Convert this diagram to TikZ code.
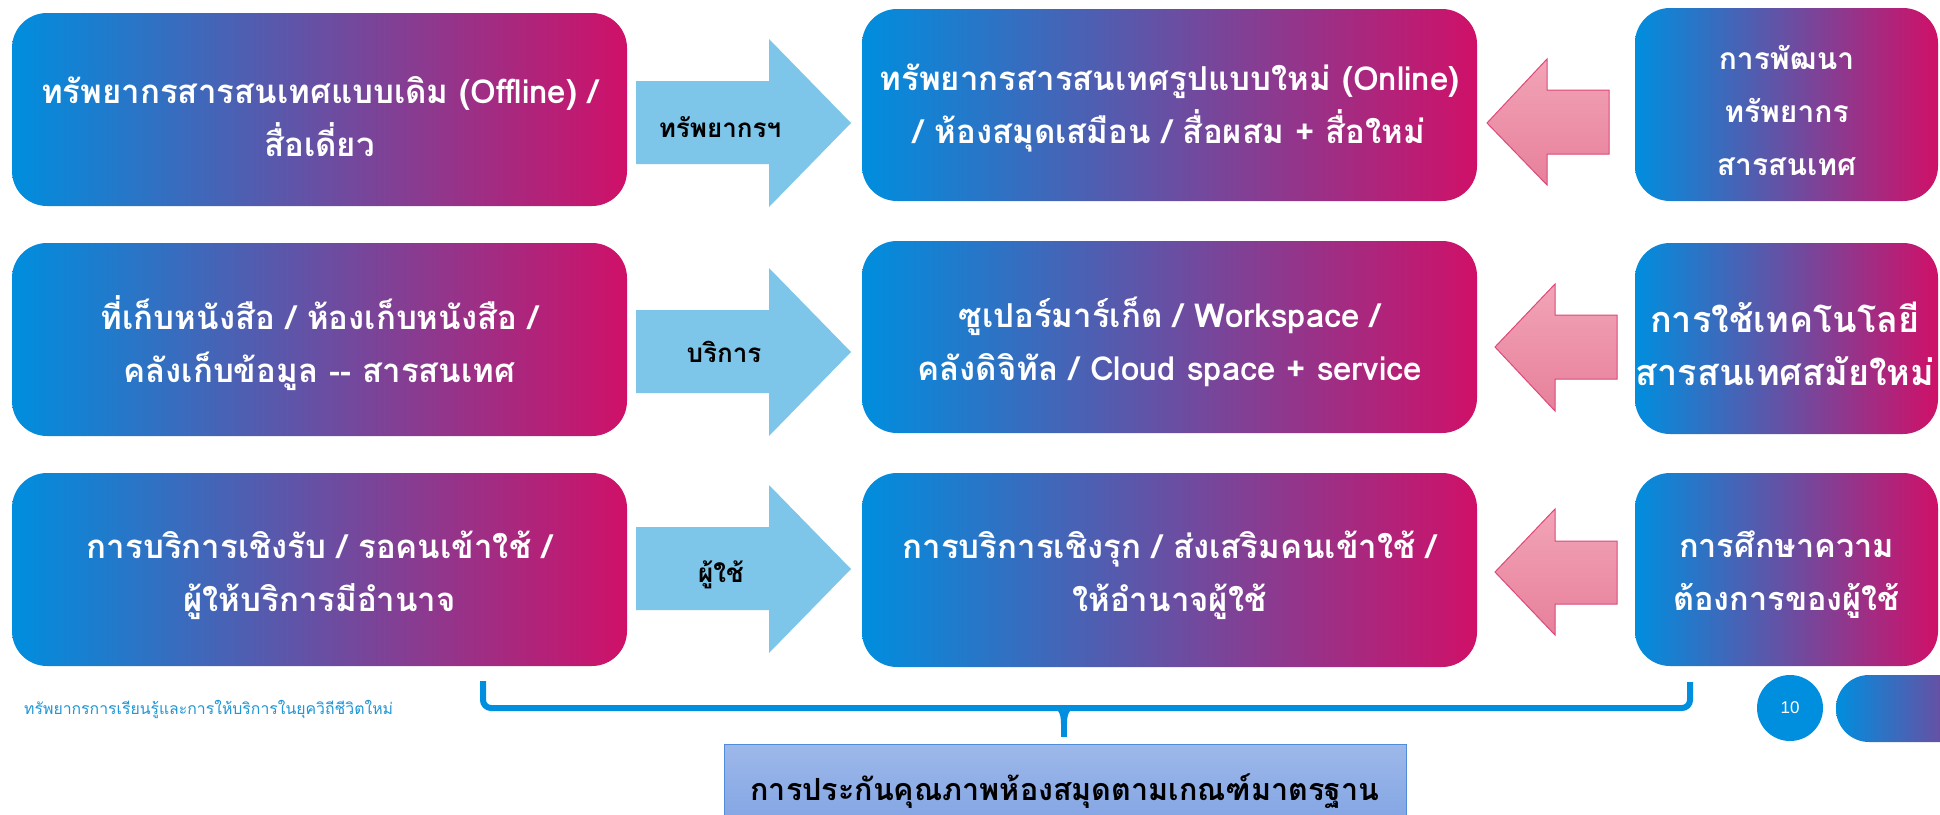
\documentclass[tikz,border=0pt]{standalone}
\usepackage{fontspec}
\newfontfamily\thaifont[Script=Thai]{Loma}
\newfontfamily\numfont{Liberation Sans}
\definecolor{gblue}{RGB}{0,142,222}
\definecolor{gmag}{RGB}{208,16,104}
\definecolor{lblue}{RGB}{126,197,234}
\definecolor{pinktop}{RGB}{242,164,182}
\definecolor{pinkbot}{RGB}{231,128,155}
\definecolor{pinkline}{RGB}{222,72,124}
\definecolor{qtop}{RGB}{157,184,234}
\definecolor{qbot}{RGB}{124,160,226}
\definecolor{qline}{RGB}{80,140,215}
\definecolor{foot}{RGB}{30,150,215}
\begin{document}
\begin{tikzpicture}[x=1pt,y=-1pt,
  gbox/.style={rounded corners=35pt, left color=gblue, right color=gmag, draw=none},
  btext/.style={text=white, align=center, inner sep=0pt,
    font=\thaifont\bfseries\fontsize{#1}{53}\selectfont},
  btext/.default=33,
  rarrow/.style={fill=lblue},
  larrow/.style={top color=pinktop, bottom color=pinkbot, draw=pinkline, line width=1pt},
  lbl/.style={text=black, inner sep=0pt, font=\thaifont\bfseries\fontsize{26}{30}\selectfont},
  qbox/.style={top color=qtop, bottom color=qbot, draw=qline, line width=1pt},
  bracestyle/.style={draw=gblue, line width=6pt}]
\useasboundingbox (0,0) rectangle (1940,814);
\clip (0,0) rectangle (1940,814);
\fill[white] (0,0) rectangle (1940,814);

% left column
\path[gbox] (12,13) rectangle (627,206);
\path[gbox] (12,243) rectangle (627,436);
\path[gbox] (12,473) rectangle (627,666);
\node[btext] (a1) at (319.5,117) {ทรัพยากรสารสนเทศแบบเดิม (Offline) /\\สื่อเดี่ยว};
\node[btext] (a2) at (319.5,343) {ที่เก็บหนังสือ / ห้องเก็บหนังสือ /\\คลังเก็บข้อมูล -- สารสนเทศ};
\node[btext] (a3) at (319.5,575) {การบริการเชิงรับ / รอคนเข้าใช้ /\\ผู้ให้บริการมีอำนาจ};

% middle column
\path[gbox] (862,9) rectangle (1477,201);
\path[gbox] (862,241) rectangle (1477,433);
\path[gbox] (862,473) rectangle (1477,667);
\node[btext] (b1) at (1169.5,108) {ทรัพยากรสารสนเทศรูปแบบใหม่ (Online)\\/ ห้องสมุดเสมือน / สื่อผสม + สื่อใหม่};
\node[btext] (b2) at (1169.5,342) {ซูเปอร์มาร์เก็ต / Workspace /\\คลังดิจิทัล / Cloud space + service};
\node[btext] (b3) at (1169.5,575) {การบริการเชิงรุก / ส่งเสริมคนเข้าใช้ /\\ให้อำนาจผู้ใช้};

% right column
\path[gbox] (1635,8) rectangle (1938,201);
\path[gbox] (1635,243) rectangle (1938,434);
\path[gbox] (1635,473) rectangle (1938,666);
\node[btext=30] (c1) at (1786.5,110) {การพัฒนา\\ทรัพยากร\\สารสนเทศ};
\node[btext=36] (c2) at (1785,344) {การใช้เทคโนโลยี\\สารสนเทศสมัยใหม่};
\node[btext=32.5] (c3) at (1786.5,575) {การศึกษาความ\\ต้องการของผู้ใช้};

% right block arrows
\path[rarrow] (636,81) -- (769,81) -- (769,39) -- (851,123) -- (769,207) -- (769,164) -- (636,164) -- cycle;
\path[rarrow] (636,310) -- (769,310) -- (769,268) -- (851,352) -- (769,436) -- (769,393) -- (636,393) -- cycle;
\path[rarrow] (636,527) -- (769,527) -- (769,485) -- (851,569) -- (769,653) -- (769,610) -- (636,610) -- cycle;
\node[lbl] (l1) at (720,127) {ทรัพยากรฯ};
\node[lbl] (l2) at (724,352) {บริการ};
\node[lbl] (l3) at (721,575) {ผู้ใช้};

% left pink block arrows
\path[larrow] (1487,123) -- (1547,59) -- (1547,90) -- (1609,90) -- (1609,154) -- (1547,154) -- (1547,185) -- cycle;
\path[larrow] (1495,347) -- (1555,284) -- (1555,315) -- (1617,315) -- (1617,379) -- (1555,379) -- (1555,411) -- cycle;
\path[larrow] (1495,572) -- (1555,509) -- (1555,541) -- (1617,541) -- (1617,604) -- (1555,604) -- (1555,635) -- cycle;

% brace
\coordinate (bl) at (483,681);
\coordinate (br) at (1690,682);
\coordinate (bm) at (1064,708);
\coordinate (bt) at (1064,737);
\draw[bracestyle, rounded corners=8pt] (bl) -- (483,708) -- (1690,708) -- (br);
\draw[bracestyle] (bm) -- (bt);
\fill[gblue] (1046,706) .. controls (1058,707) and (1061,712) .. (1061,724) -- (1067,724) .. controls (1067,712) and (1070,707) .. (1082,706) -- cycle;

% quality box
\node[qbox, minimum width=682pt, minimum height=100pt, anchor=north, inner sep=0pt] (q) at (1065,744) {};
\node[text=black, inner sep=0pt, font=\thaifont\bfseries\fontsize{30.5}{33}\selectfont] (qt) at (1065,791) {การประกันคุณภาพห้องสมุดตามเกณฑ์มาตรฐาน};

% footer
\node[anchor=west, text=foot, inner sep=0pt, font=\thaifont\fontsize{15.8}{18}\selectfont] (ft) at (24,709) {ทรัพยากรการเรียนรู้และการให้บริการในยุควิถีชีวิตใหม่};
\node[circle, fill=gblue, minimum size=66pt, inner sep=0pt, text=white, font=\numfont\fontsize{17}{17}\selectfont] (pg) at (1790,708) {\raisebox{-3pt}{10}};
\path[left color=gblue, right color=gmag, rounded corners=33pt] (1836,675) rectangle (2050,742);
\end{tikzpicture}
\end{document}
